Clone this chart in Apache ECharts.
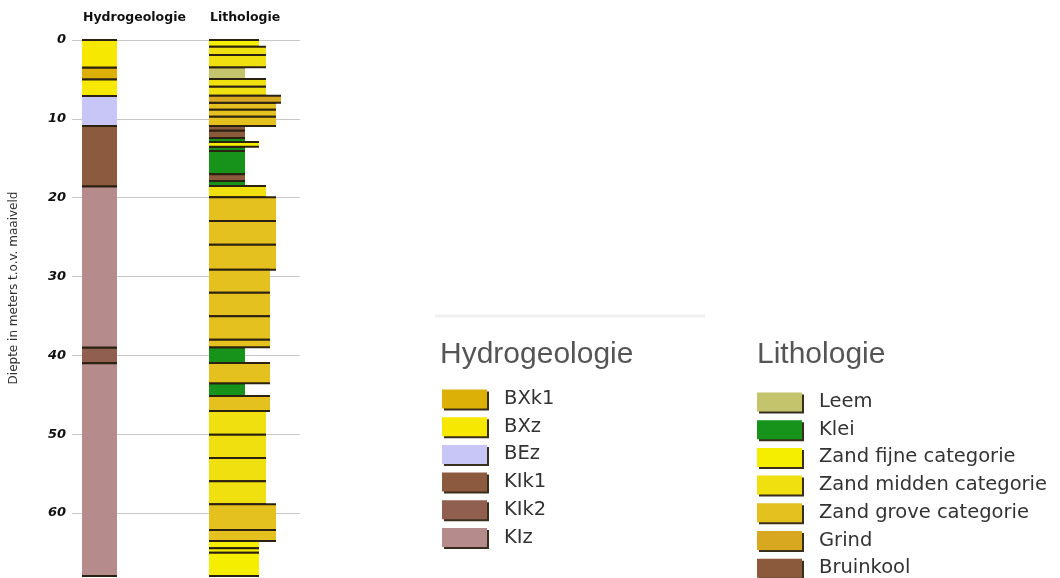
<!DOCTYPE html>
<html>
<head>
<meta charset="utf-8">
<title>Boorprofiel</title>
<script src="https://cdn.jsdelivr.net/npm/echarts@6/dist/echarts.min.js"></script>
<style>
  html, body { margin: 0; padding: 0; background: #fff; }
  #chart { width: 1060px; height: 578px; }
</style>
</head>
<body>
<div id="chart"></div>
<script>
// hydrogeologie: code per laag, diepte van/tot (m)
var hydroCodes = ["BXz", "BXk1", "BXz", "BEz", "KIk1", "KIz", "KIk2", "KIz"];
var hydroVan = [0, 3.5, 5.0, 7.1, 10.9, 18.6, 39.0, 41.0];
var hydroTot = [3.5, 5.0, 7.1, 10.9, 18.6, 39.0, 41.0, 68.0];

// lithologie: type per laag, diepte van (m), breedte van de balk (korrelgrootte)
var lithoTypes = [
  "Zand fijne categorie", "Zand midden categorie", "Zand midden categorie", "Leem",
  "Zand midden categorie", "Zand midden categorie", "Grind", "Zand grove categorie",
  "Zand grove categorie", "Zand grove categorie", "Bruinkool", "Bruinkool",
  "Klei", "Zand fijne categorie", "Klei", "Klei", "Bruinkool", "Klei",
  "Zand midden categorie", "Zand grove categorie", "Zand grove categorie",
  "Zand grove categorie", "Zand grove categorie", "Zand grove categorie",
  "Zand grove categorie", "Zand grove categorie", "Klei", "Zand grove categorie",
  "Klei", "Zand grove categorie", "Zand midden categorie", "Zand midden categorie",
  "Zand midden categorie", "Zand midden categorie", "Zand grove categorie",
  "Zand grove categorie", "Zand fijne categorie", "Zand fijne categorie",
  "Zand fijne categorie"
];
var lithoVan = [
  0, 0.85, 1.9, 3.46, 4.95, 5.92, 7.07, 7.95, 8.84, 9.73,
  10.9, 11.5, 12.43, 12.94, 13.53, 14.08, 17.04, 17.89, 18.52, 19.95,
  22.96, 25.97, 29.14, 32.06, 35.05, 38.02, 38.98, 40.97, 43.55, 45.16,
  47.06, 50.07, 53.03, 55.98, 58.9, 62.16, 63.55, 64.48, 65.04
];
var lithoEinde = 68.0;
var lithoBreedte = [
  50, 57, 57, 36, 57, 57, 72, 67, 67, 67,
  36, 36, 36, 50, 36, 36, 36, 36, 57, 67,
  67, 67, 61, 61, 61, 61, 36, 61, 36, 61,
  57, 57, 57, 57, 67, 67, 50, 50, 50
];

var dieptes = [0, 10, 20, 30, 40, 50, 60];

var hydroLegenda = ["BXk1", "BXz", "BEz", "KIk1", "KIk2", "KIz"];
var hydroKleuren = ["#dcb006", "#f6e800", "#c8c6f6", "#8c5b3f", "#915f4f", "#b68b8b"];
var lithoLegenda = ["Leem", "Klei", "Zand fijne categorie", "Zand midden categorie",
  "Zand grove categorie", "Grind", "Bruinkool"];
var lithoKleuren = ["#c4c46c", "#17921a", "#f6ee00", "#f0e010", "#e5c11f", "#d8a820", "#8b5a3c"];

function init_boorprofiel(container) {
  var chartDom = document.getElementById(container);
  var myChart = echarts.init(chartDom);

  var hydroX = [10, 45];   // kolom in as-eenheden
  var lithoX0 = 137;

  function renderLaag(params, api) {
    var p0 = api.coord([api.value(0), api.value(2)]);
    var p1 = api.coord([api.value(1), api.value(3)]);
    var lijn = { stroke: "#2b2110", lineWidth: 2 };
    return {
      type: "group",
      children: [
        {
          type: "rect",
          shape: { x: p0[0], y: p0[1], width: p1[0] - p0[0], height: p1[1] - p0[1] },
          style: { fill: api.visual("color") }
        },
        { type: "line", shape: { x1: p0[0], y1: p0[1], x2: p1[0], y2: p0[1] }, style: lijn },
        { type: "line", shape: { x1: p0[0], y1: p1[1], x2: p1[0], y2: p1[1] }, style: lijn }
      ]
    };
  }

  var series = [];
  hydroLegenda.forEach(function (code, i) {
    var data = [];
    hydroCodes.forEach(function (c, j) {
      if (c === code) data.push([hydroX[0], hydroX[1], hydroVan[j], hydroTot[j]]);
    });
    series.push({
      name: code, type: "custom", renderItem: renderLaag,
      itemStyle: { color: hydroKleuren[i] }, data: data
    });
  });
  lithoLegenda.forEach(function (naam, i) {
    var data = [];
    lithoTypes.forEach(function (t, j) {
      if (t !== naam) return;
      var tot = j + 1 < lithoVan.length ? lithoVan[j + 1] : lithoEinde;
      data.push([lithoX0, lithoX0 + lithoBreedte[j], lithoVan[j], tot]);
    });
    series.push({
      name: naam, type: "custom", renderItem: renderLaag,
      itemStyle: { color: lithoKleuren[i] }, data: data
    });
  });

  var legendBase = {
    orient: "vertical",
    icon: "rect",
    padding: 0,
    height: 220,
    itemWidth: 45,
    itemHeight: 19,
    itemGap: 7.7,
    selectedMode: false,
    itemStyle: {
      borderWidth: 0,
      shadowColor: "rgba(45,35,15,0.95)",
      shadowOffsetX: 2,
      shadowOffsetY: 2,
      shadowBlur: 0
    },
    textStyle: {
      fontFamily: "DejaVu Sans",
      fontSize: 19.5,
      lineHeight: 19,
      color: "#333",
      padding: [0, 0, 0, 12]
    }
  };

  var titleStyle = { fontFamily: "Liberation Sans", fontSize: 30, fontWeight: "normal", color: "#555" };

  var option = {
    animation: false,
    title: [
      { text: "Hydrogeologie", left: 440, top: 340, padding: 0, textStyle: titleStyle },
      { text: "Lithologie", left: 757, top: 340, padding: 0, textStyle: titleStyle }
    ],
    legend: [
      Object.assign({}, legendBase, { data: hydroLegenda, left: 442, top: 389 }),
      Object.assign({}, legendBase, { data: lithoLegenda, left: 757, top: 392 })
    ],
    graphic: [
      { type: "text", left: 83, top: 11, style: { text: "Hydrogeologie", font: "bold 12.5px DejaVu Sans", fill: "#111" } },
      { type: "text", left: 210, top: 11, style: { text: "Lithologie", font: "bold 12.5px DejaVu Sans", fill: "#111" } },
      { type: "line", shape: { x1: 435, y1: 316, x2: 705, y2: 316 }, style: { stroke: "#f0f0f0", lineWidth: 3 } }
    ],
    grid: { left: 72, right: 760, top: 40, bottom: 0 },
    xAxis: { type: "value", min: 0, max: 228, show: false },
    yAxis: {
      type: "value",
      inverse: true,
      min: 0,
      max: 68.25,
      interval: 10,
      name: "Diepte in meters t.o.v. maaiveld",
      nameLocation: "middle",
      nameGap: 52,
      nameTextStyle: { fontFamily: "DejaVu Sans", fontSize: 12, color: "#333", padding: [0, 0, 0, 42] },
      axisLine: { show: false },
      axisTick: { show: false },
      axisLabel: {
        margin: 6,
        showMaxLabel: false,
        fontFamily: "DejaVu Sans",
        fontSize: 13,
        fontWeight: "bold",
        fontStyle: "italic",
        color: "#111",
        formatter: function (v) { return dieptes.indexOf(v) >= 0 ? String(v) : ""; }
      },
      splitLine: { lineStyle: { color: "#c8c8c8", width: 1 } }
    },
    series: series
  };

  window.addEventListener("resize", function () {
    myChart.resize();
  });
  myChart.setOption(option);
}

init_boorprofiel("chart");
</script>
</body>
</html>
